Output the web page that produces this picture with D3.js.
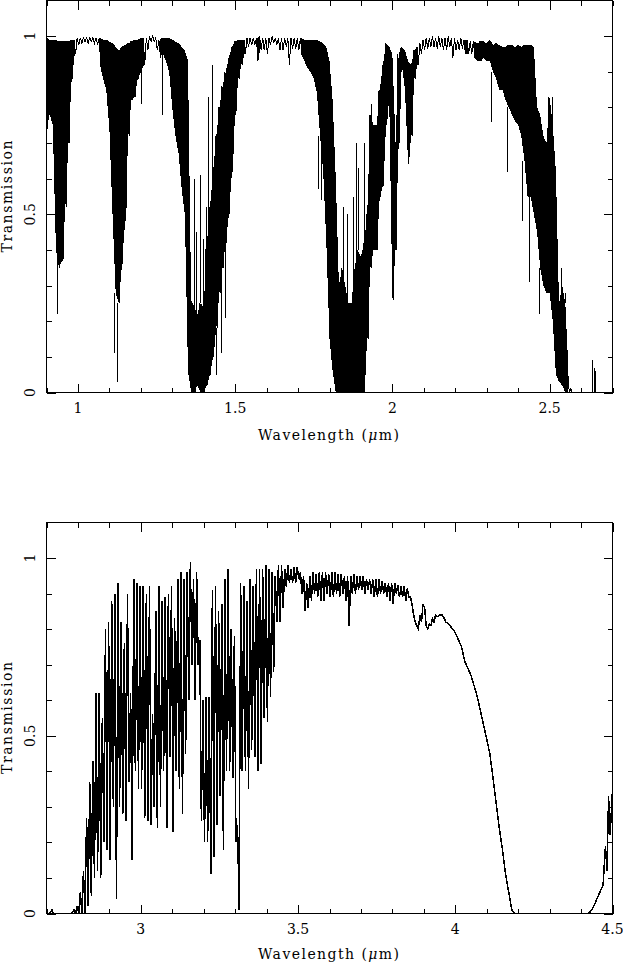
<!DOCTYPE html>
<html>
<head>
<meta charset="utf-8">
<script src="https://cdn.jsdelivr.net/npm/d3@7"></script>
<style>
  body { margin: 0; background: #fff; }
  svg text { font-family: "DejaVu Serif", serif; font-size: 14px; fill: #000; }
</style>
</head>
<body>
<svg id="chart" width="623" height="970"></svg>
<script>
// spectra are sampled in 0.01 um bins; for every bin the upper and lower
// envelope of the (very dense) absorption lines is kept
const step = 0.01;

// near infrared, 0.90 .. 2.70 um
const nirStart = 0.90;
const nirHigh = [
  .995, .99, .99, .99, .985, .985, .985, .985, .99, .99,
  .995, .995, .995, .995, .995, .995, .995, .995, .99, .99,
  .985, .98, .97, .96, .97, .975, .98, .985, .99, .99,
  .995, .995, .995, 1, 1, .995, .99, .995, .995, .995,
  .99, .985, .98, .97, .96, .93, .26, .24, .22, .25,
  .24, .42, .52, .62, .72, .80, .86, .90, .94, .97,
  .985, .99, .99, .99, .995, .995, .995, .995, 1, .995,
  .995, .995, 1, .995, .995, .995, .995, .995, .995, .995,
  .995, .995, .99, .99, .99, .99, .99, .985, .98, .97,
  .93, .82, .60, .30, .35, .30, .25, .25, .35, .40,
  .38, .42, .50, .78, .75, .75, .85, .92, .98, .97,
  .95, .70, .95, .97, .96, .93, .92, .96, .97, .98,
  .99, .995, .995, 1, .995, 1, .995, .995, 1, .995,
  .995, .99, .995, .99, .99, .985, .985, .98, .985, .985,
  .98, .99, .975, .98, .975, .97, .97, .975, .975, .97,
  .975, .97, .975, .975, .975, .97, .80, .78, .72, .70,
  .83, .75, .62, .25, .30, .25, .06, .01, 0, 0,
  0, 0, 0, 0, 0, 0, 0, 0, 0, 0,
  0
];
const nirLow = [
  .74, .78, .75, .40, .35, .37, .52, .70, .88, .95,
  .975, .98, .985, .98, .985, .98, .975, .92, .88, .85,
  .74, .50, .28, .25, .36, .48, .72, .82, .83, .88,
  .90, .92, .96, .985, .985, .96, .94, .95, .93, .90,
  .80, .72, .67, .57, .50, .06, 0, 0, .02, 0,
  0, .02, .05, .10, .18, .28, .35, .42, .50, .62,
  .78, .88, .92, .95, .97, .975, .975, .93, .96, .96,
  .95, .975, .98, .975, .96, .96, .97, .92, .965, .965,
  .96, .95, .93, .91, .90, .88, .84, .72, .62, .42,
  .15, .06, 0, 0, 0, 0, 0, 0, 0, 0,
  0, 0, .15, .35, .40, .40, .55, .58, .75, .82,
  .26, .40, .70, .92, .85, .64, .72, .88, .92, .95,
  .96, .965, .97, .97, .965, .97, .96, .96, .97, .94,
  .96, .96, .965, .95, .95, .95, .94, .93, .93, .94,
  .93, .93, .90, .88, .85, .85, .82, .80, .78, .76,
  .75, .72, .65, .55, .55, .50, .45, .35, .30, .28,
  .28, .20, .05, .03, .02, 0, 0, 0, 0, 0,
  0, 0, 0, 0, 0, 0, 0, 0, 0, 0,
  0
];
// single strong lines that stick out of the envelope: [wavelength, transmission]
const nirLines = [
  [0.934, .22], [1.117, .11], [1.127, .03], [1.202, .81], [1.268, .78],
  [1.355, .50], [1.370, .60], [1.377, .45], [1.389, .61], [1.400, .43],
  [1.408, .52], [1.414, .83], [1.428, .92], [1.441, .05], [1.456, .11],
  [1.470, .21], [1.766, .57], [1.775, .54], [1.846, .52], [1.856, .50],
  [1.877, .55], [1.886, .70], [1.893, .63], [1.912, .70], [1.935, .81],
  [2.315, .76], [2.365, .62], [2.415, .48], [2.435, .31], [2.468, .22],
  [2.509, .83], [2.537, .35], [2.551, .28], [2.636, .09], [2.644, .07],
  [2.647, .06]
];

// thermal infrared, 2.70 .. 4.50 um
const mirStart = 2.70;
const mirHigh = [
  0, 0, .01, 0, 0, 0, 0, 0, 0, .01,
  .02, .06, .12, .27, .37, .43, .62, .62, .55, .80,
  .82, .88, .90, .93, .82, .76, .90, .62, .94, .93,
  .92, .92, .90, .92, .56, .85, .92, .88, .89, .90,
  .92, .83, .94, .96, .94, .96, .99, .94, .96, .77,
  .60, .61, .61, .91, .92, .85, .87, .94, .97, .80,
  .78, .25, .93, .92, .88, .94, .92, .97, .97, .97,
  .98, .97, .96, .95, .98, .98, .97, .98, .97, .975,
  .975, .96, .95, .93, .95, .96, .955, .96, .96, .96,
  .955, .96, .96, .955, .955, .95, .95, .95, .955, .95,
  .95, .95, .94, .94, .94, .94, .94, .935, .93, .93,
  .93, .93, .925, .92, .92, .915, .89, .84, .81, .84,
  .87, .81, .815, .83, .84, .84, .84, .82, .815, .805,
  .79, .77, .75, .71, .69, .67, .64, .61, .57, .53,
  .49, .45, .38, .31, .24, .18, .11, .06, .01, 0,
  0, 0, 0, 0, 0, 0, 0, 0, 0, 0,
  0, 0, 0, 0, 0, 0, 0, 0, 0, 0,
  0, 0, 0, .005, .02, .04, .06, .08, .19, .33,
  .35
];
const mirLow = [
  0, 0, 0, 0, 0, 0, 0, 0, 0, 0,
  0, 0, 0, .02, .05, .10, .12, .10, .20, .18,
  .15, .30, .04, .30, .28, .26, .37, .15, .40, .35,
  .35, .27, .26, .25, .30, .24, .30, .40, .24, .44,
  .23, .40, .35, .28, .45, .60, .70, .60, .70, .26,
  .20, .20, .11, .16, .25, .33, .18, .40, .40, .38,
  .20, .01, .40, .40, .35, .46, .44, .40, .42, .55,
  .54, .61, .68, .82, .82, .86, .92, .93, .93, .93,
  .94, .90, .85, .86, .88, .90, .89, .88, .88, .90,
  .89, .89, .90, .89, .90, .88, .81, .90, .90, .91,
  .91, .90, .91, .90, .89, .89, .90, .90, .89, .88,
  .87, .90, .89, .89, .88, .89, .87, .82, .80, .82,
  .86, .80, .81, .82, .835, .84, .835, .82, .81, .80,
  .79, .77, .75, .71, .69, .67, .64, .61, .57, .53,
  .49, .45, .38, .31, .24, .18, .11, .06, .01, 0,
  0, 0, 0, 0, 0, 0, 0, 0, 0, 0,
  0, 0, 0, 0, 0, 0, 0, 0, 0, 0,
  0, 0, 0, .005, .02, .04, .06, .08, .12, .22,
  .35
];

const nirTicks = [1, 1.5, 2, 2.5];
const mirTicks = [3, 3.5, 4, 4.5];
const yTicks = [0, 0.5, 1];

const svg = d3.select("#chart");
const left = 46.5, right = 612.5;

function drawPanel(opt) {
  const x = d3.scaleLinear().domain(opt.xDomain).range([left, right]);
  const y = d3.scaleLinear().domain([0, 1.1]).range([opt.bottom, opt.top]);
  const g = svg.append("g");

  g.append("clipPath").attr("id", opt.id)
    .append("rect")
    .attr("x", left).attr("y", opt.top)
    .attr("width", right - left).attr("height", opt.bottom - opt.top);

  const bins = opt.high.map((h, i) => ({ lam: opt.start + i * step, hi: h, lo: opt.low[i] }));

  // where the lines are packed tight the band reads as solid black
  if (opt.fill) {
    g.append("path")
      .datum(bins)
      .attr("clip-path", "url(#" + opt.id + ")")
      .attr("fill", "#000")
      .attr("shape-rendering", "crispEdges")
      .attr("d", d3.area()
        .defined(d => d.hi - d.lo > 0.04)
        .x(d => x(d.lam))
        .y0(d => y(d.lo))
        .y1(d => y(d.hi)));
  }

  // zig-zag between the two envelopes, half a bin apart
  const pts = [];
  bins.forEach(b => {
    if (b.hi === b.lo) pts.push([b.lam, b.hi]);
    else pts.push([b.lam - step / 4, b.hi], [b.lam + step / 4, b.lo]);
  });

  g.append("path")
    .datum(pts)
    .attr("clip-path", "url(#" + opt.id + ")")
    .attr("fill", "none")
    .attr("stroke", "#000")
    .attr("stroke-width", opt.lineWidth)
    .attr("shape-rendering", "crispEdges")
    .attr("d", d3.line().x(d => x(d[0])).y(d => y(d[1])));

  // the odd lines that go past the envelope
  const edge = d => {
    const i = Math.round((d[0] - opt.start) / step);
    return d[1] > opt.high[i] ? opt.high[i] : opt.low[i];
  };
  g.selectAll(".spike")
    .data(opt.lines)
    .enter()
    .append("line")
    .attr("x1", d => x(d[0])).attr("x2", d => x(d[0]))
    .attr("y1", d => y(edge(d))).attr("y2", d => y(d[1]))
    .attr("stroke", "#000")
    .attr("shape-rendering", "crispEdges");

  // frame
  g.append("rect")
    .attr("x", left).attr("y", opt.top)
    .attr("width", right - left).attr("height", opt.bottom - opt.top)
    .attr("fill", "none").attr("stroke", "#000")
    .attr("shape-rendering", "crispEdges");

  // inward ticks on all four sides
  const minorX = x.ticks(18);
  const minorY = y.ticks(11).filter(t => t < 1.05);
  const ticks = (axis, values, size, transform) => {
    g.append("g")
      .attr("transform", transform)
      .call(axis.tickValues(values).tickSize(size).tickFormat(""))
      .call(s => s.select(".domain").remove())
      .selectAll("line")
      .attr("shape-rendering", "crispEdges");
  };
  ticks(d3.axisBottom(x), minorX, -5, "translate(0," + opt.bottom + ")");
  ticks(d3.axisBottom(x), opt.xTicks, -9, "translate(0," + opt.bottom + ")");
  ticks(d3.axisTop(x), minorX, -5, "translate(0," + opt.top + ")");
  ticks(d3.axisTop(x), opt.xTicks, -9, "translate(0," + opt.top + ")");
  ticks(d3.axisLeft(y), minorY, -5, "translate(" + left + ",0)");
  ticks(d3.axisLeft(y), yTicks, -9, "translate(" + left + ",0)");
  ticks(d3.axisRight(y), minorY, -5, "translate(" + right + ",0)");
  ticks(d3.axisRight(y), yTicks, -9, "translate(" + right + ",0)");

  // tick labels
  g.selectAll(".xlab")
    .data(opt.xTicks)
    .enter()
    .append("text")
    .attr("x", d => x(d))
    .attr("y", opt.bottom + 20)
    .attr("text-anchor", "middle")
    .text(d => d);

  g.selectAll(".ylab")
    .data(yTicks)
    .enter()
    .append("text")
    .attr("transform", d => "translate(35," + y(d) + ") rotate(-90)")
    .attr("text-anchor", "middle")
    .text(d => d);

  // axis titles
  const xt = g.append("text")
    .attr("x", 328.5)
    .attr("y", opt.bottom + opt.titleGap)
    .attr("text-anchor", "middle")
    .attr("textLength", 141)
    .text("Wavelength (");
  xt.append("tspan").attr("font-style", "italic").text("μ");
  xt.append("tspan").text("m)");

  g.append("text")
    .attr("transform", "translate(11.5," + (opt.top + opt.bottom) / 2 + ") rotate(-90)")
    .attr("text-anchor", "middle")
    .attr("textLength", 112)
    .text("Transmission");
}

drawPanel({
  id: "clipNir", xDomain: [0.9, 2.7], top: 0.5, bottom: 392.5, titleGap: 47,
  start: nirStart, high: nirHigh, low: nirLow, lines: nirLines, xTicks: nirTicks,
  fill: true, lineWidth: 1
});

drawPanel({
  id: "clipMir", xDomain: [2.7, 4.5], top: 522.5, bottom: 913.5, titleGap: 45,
  start: mirStart, high: mirHigh, low: mirLow, lines: [], xTicks: mirTicks,
  fill: false, lineWidth: 1.5
});
</script>
</body>
</html>
